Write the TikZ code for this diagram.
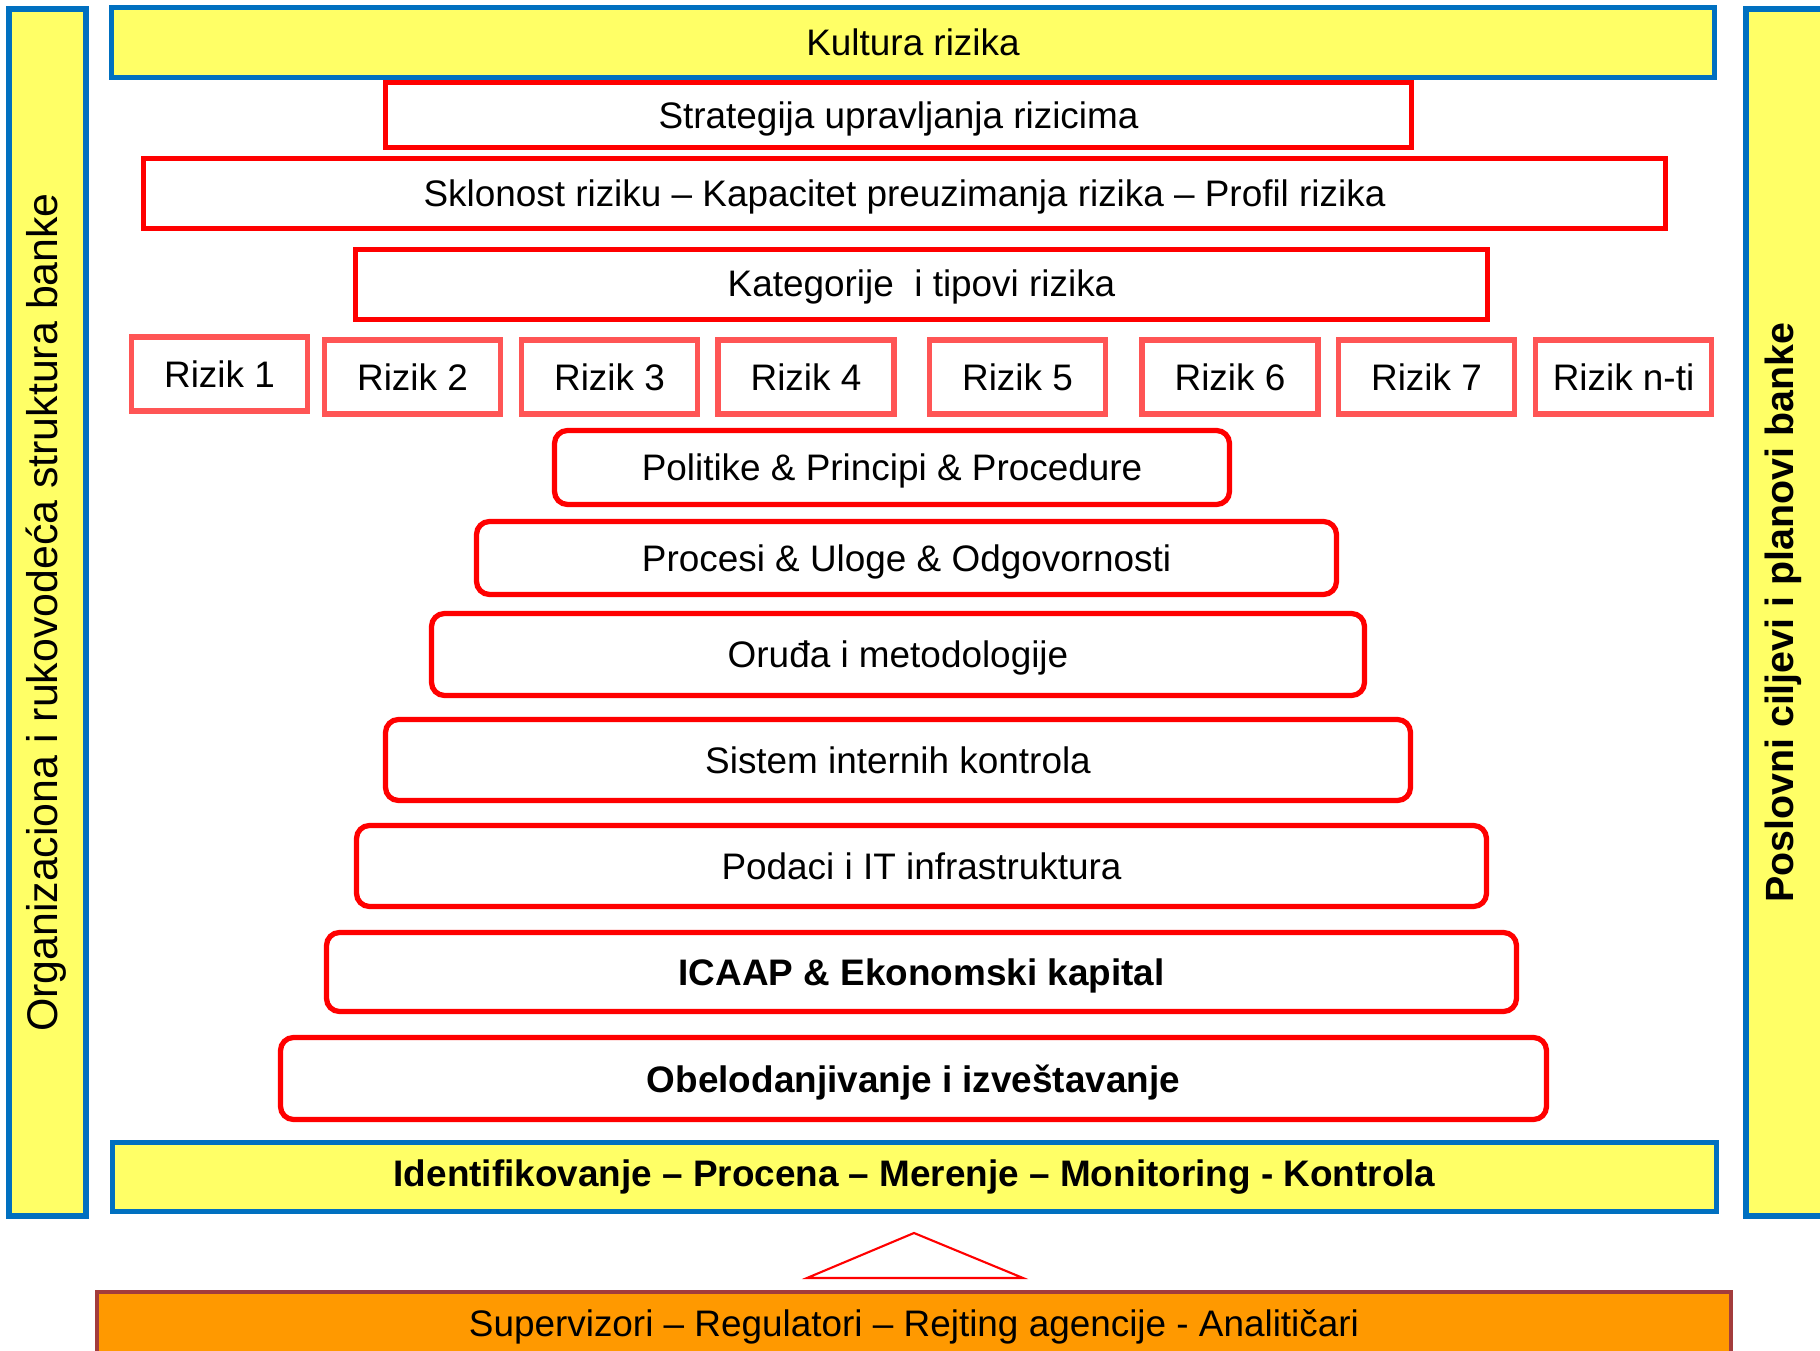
\documentclass[tikz,border=0pt]{standalone}
\usepackage{fontspec}
\setmainfont{Liberation Sans}
\usepackage{tikz}
\usetikzlibrary{positioning}
\definecolor{barfill}{HTML}{FFFF66}
\definecolor{barline}{HTML}{0070C0}
\definecolor{layerred}{HTML}{FF0000}
\definecolor{risklight}{HTML}{FF5555}
\definecolor{supfill}{HTML}{FF9900}
\definecolor{supline}{HTML}{A33C3C}

\begin{document}
\begin{tikzpicture}[
    x=0.1mm, y=-0.1mm,
    txt/.style={font=\fontsize{10.5}{12.6}\selectfont, text depth=0pt},
    bar/.style={draw=barline, fill=barfill, line width=1.5pt, inner sep=0pt, txt},
    layer/.style={draw=layerred, line width=1.5pt, inner sep=0pt, txt},
    pillar/.style={layer, rounded corners=1.3mm},
    rizik/.style={draw=risklight, line width=1.6pt, inner sep=0pt, txt, minimum width=17.6mm, minimum height=7.4mm},
    sup/.style={draw=supline, fill=supfill, line width=1.4pt, inner sep=0pt}]
    \clip (0,0) rectangle (1820,1351);
    \fill[white] (0,0) rectangle (1820,1351);
    % side bars
    \node[bar, minimum width=7.7mm, minimum height=120.7mm] (orgside) at (47.5,612.5) {};
    \node[bar, minimum width=9.4mm, minimum height=120.7mm] (goalside) at (1793,612.5) {};
    \node[rotate=90, font=\fontsize{12.2}{14}\selectfont] (orgtxt) at (46,612.5) {Organizaciona i rukovodeća struktura banke};
    \node[rotate=90, font=\fontsize{11.2}{13}\selectfont\bfseries] (goaltxt) at (1783,613) {Poslovni ciljevi i planovi banke};
    % upper layers
    \node[bar, minimum width=160.3mm, minimum height=7mm] (culture) at (913,42.5) {Kultura rizika};
    \node[layer, minimum width=102.6mm, minimum height=6.5mm] (strategy) at (898.5,115) {Strategija upravljanja rizicima};
    \node[layer, minimum width=152.2mm, minimum height=7mm] (appetite) at (904.5,193.5) {Sklonost riziku – Kapacitet preuzimanja rizika – Profil rizika};
    \node[layer, minimum width=113.2mm, minimum height=7mm, text depth=1pt] (categ) at (921.5,284.5) {Kategorije\ \ i tipovi rizika};
    % risks
    \node[rizik] (r1) at (219.5,374) {Rizik 1};
    \node[rizik] (r2) at (412.5,377) {Rizik 2};
    \node[rizik] (r3) at (609.5,377) {Rizik 3};
    \node[rizik] (r4) at (806,377) {Rizik 4};
    \node[rizik] (r5) at (1017.5,377) {Rizik 5};
    \node[rizik] (r6) at (1230,377) {Rizik 6};
    \node[rizik] (r7) at (1426.5,377) {Rizik 7};
    \node[rizik] (rn) at (1623.5,377) {Rizik n-ti};
    % pyramid
    \node[pillar, minimum width=67.5mm, minimum height=7.4mm] (policy) at (892,467.5) {Politike \& Principi \& Procedure};
    \node[pillar, minimum width=86mm, minimum height=7.3mm] (process) at (906.5,558) {Procesi \& Uloge \& Odgovornosti};
    \node[pillar, minimum width=93.3mm, minimum height=8.2mm] (tools) at (898,654.5) {Oruđa i metodologije};
    \node[pillar, minimum width=102.5mm, minimum height=8.1mm] (control) at (898,760) {Sistem internih kontrola};
    \node[pillar, minimum width=113mm, minimum height=8.1mm] (data) at (921.5,866) {Podaci i IT infrastruktura};
    \node[pillar, minimum width=119mm, minimum height=7.9mm, font=\fontsize{10.5}{12.6}\selectfont\bfseries] (icaap) at (921.5,972) {ICAAP \& Ekonomski kapital};
    \node[pillar, minimum width=126.6mm, minimum height=8.2mm, font=\fontsize{10.5}{12.6}\selectfont\bfseries] (disclose) at (913.5,1078.5) {Obelodanjivanje i izveštavanje};
    \node[bar, minimum width=160.4mm, minimum height=6.9mm, text depth=2.2pt, font=\fontsize{10.5}{12.6}\selectfont\bfseries] (cycle) at (914.5,1177) {Identifikovanje – Procena – Merenje – Monitoring - Kontrola};
    % external parties
    \draw[layerred, line width=0.6pt] (914,1233) -- (1023,1278) -- (807,1278) -- cycle;
    \node[sup, minimum width=163.4mm, minimum height=10.8mm] (supbar) at (914,1346) {};
    \node[txt] (suptxt) at (914,1323) {Supervizori – Regulatori – Rejting agencije - Analitičari};
\end{tikzpicture}
\end{document}
